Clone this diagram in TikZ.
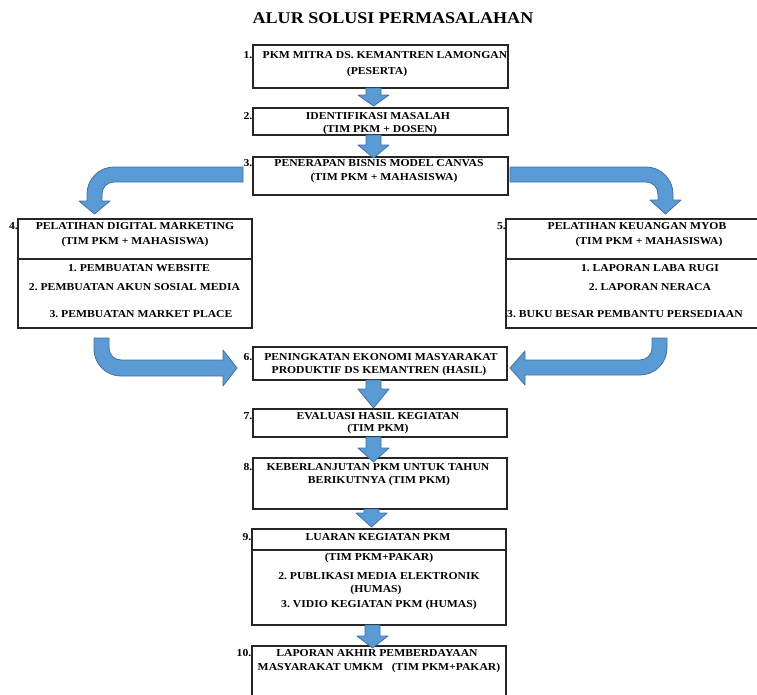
\documentclass[tikz,border=0pt]{standalone}
\usepackage{fontspec}
\setmainfont{Liberation Serif}[FakeStretch=1.1]
\frenchspacing
\definecolor{arrowblue}{HTML}{5B9BD5}
\definecolor{arrowedge}{HTML}{41719C}
\newcommand\mkdownarrow[4]{%
  \draw[blk] (#1-7.5,#2) -- (#1+7.5,#2) -- (#1+7.5,#3) -- (#1+15.5,#3) -- (#1,#4) -- (#1-15.5,#3) -- (#1-7.5,#3) -- cycle;}
\begin{document}
\begin{tikzpicture}[x=1pt,y=-1pt,
  box/.style={draw=black!85, line width=1.2pt, fill=white, inner sep=0pt, outer sep=0pt, anchor=north west},
  txt/.style={font=\fontsize{10.6}{12}\selectfont\bfseries, inner sep=0pt, anchor=base},
  num/.style={font=\fontsize{10.6}{12}\selectfont\bfseries, inner sep=0pt, anchor=base east},
  blk/.style={fill=arrowblue, draw=arrowedge, line width=0.8pt, line join=round},
  divider/.style={draw=black!85, line width=1.2pt}]
\useasboundingbox (0,0) rectangle (757,694);
\clip (0,0) rectangle (757,694);
\fill[white] (0,0) rectangle (757,694);

% title
\node[font=\fontsize{16.4}{18}\selectfont\bfseries, inner sep=0pt, anchor=base] (title) at (393,23) {ALUR SOLUSI PERMASALAHAN};

% boxes
\node[box, minimum width=255pt, minimum height=43pt] (b1) at (253,45) {};
\node[box, minimum width=255pt, minimum height=27pt] (b2) at (253,108) {};
\node[box, minimum width=255pt, minimum height=38pt] (b3) at (253,157) {};
\node[box, minimum width=234pt, minimum height=109pt] (b4) at (18,219) {};
\node[box, minimum width=274pt, minimum height=109pt] (b5) at (506,219) {};
\node[box, minimum width=254pt, minimum height=33pt] (b6) at (253,347) {};
\node[box, minimum width=254pt, minimum height=28pt] (b7) at (253,409) {};
\node[box, minimum width=254pt, minimum height=51pt] (b8) at (253,458) {};
\node[box, minimum width=254pt, minimum height=96pt] (b9) at (252,529) {};
\node[box, minimum width=254pt, minimum height=64pt] (b10) at (252,646) {};

\coordinate (d4l) at (18,259);   \coordinate (d4r) at (252,259);
\coordinate (d5l) at (506,259);  \coordinate (d5r) at (780,259);
\coordinate (d9l) at (252,550);  \coordinate (d9r) at (506,550);
\draw[divider] (d4l) -- (d4r);
\draw[divider] (d5l) -- (d5r);
\draw[divider] (d9l) -- (d9r);

% straight block arrows
\mkdownarrow{373.5}{88}{95}{106}
\mkdownarrow{373.5}{135}{145}{158}
\mkdownarrow{373.5}{380}{389}{408}
\mkdownarrow{373.5}{437}{448}{462}
\mkdownarrow{371.5}{509}{513}{527}
\mkdownarrow{372.5}{625}{636}{648}

% curved block arrows
\draw[blk] (243,167) -- (87+27,167) .. controls (87+27*0.448,167) and (87,167+27*0.448) .. (87,167+27)
  -- (87,201) -- (79,201) -- (94.5,214) -- (110,201) -- (102,201) -- (102,182+12)
  .. controls (102,182+12*0.448) and (102+12*0.448,182) .. (102+12,182) -- (243,182) -- cycle;
\draw[blk] (94,338) -- (94,376-27) .. controls (94,376-27*0.448) and (94+27*0.448,376) .. (94+27,376)
  -- (223,376) -- (223,386) -- (237,368) -- (223,350) -- (223,360) -- (109+12,360)
  .. controls (109+12*0.448,360) and (109,360-12*0.448) .. (109,360-12) -- (109,338) -- cycle;
\draw[blk] (510,167) -- (673-27,167) .. controls (673-27*0.448,167) and (673,167+27*0.448) .. (673,167+27)
  -- (673,200) -- (681,200) -- (665.5,214) -- (650,200) -- (658,200) -- (658,182+12)
  .. controls (658,182+12*0.448) and (658-12*0.448,182) .. (658-12,182) -- (510,182) -- cycle;
\draw[blk] (667,338) -- (667,375-27) .. controls (667,375-27*0.448) and (667-27*0.448,375) .. (667-27,375)
  -- (525,375) -- (525,385) -- (510,368) -- (525,351) -- (525,360) -- (652-12,360)
  .. controls (652-12*0.448,360) and (652,360-12*0.448) .. (652,360-12) -- (652,338) -- cycle;

% texts
\node[num] (n1) at (252.5,58.5) {1.};
\node[txt] (t1a) at (385,58.5) {PKM MITRA DS. KEMANTREN LAMONGAN};
\node[txt] (t1b) at (377,74.5) {(PESERTA)};

\node[num] (n2) at (252.5,119.5) {2.};
\node[txt] (t2a) at (378,119.5) {IDENTIFIKASI MASALAH};
\node[txt] (t2b) at (380,132.5) {(TIM PKM + DOSEN)};

\node[num] (n3) at (252.5,166.5) {3.};
\node[txt] (t3a) at (379,166.5) {PENERAPAN BISNIS MODEL CANVAS};
\node[txt] (t3b) at (384,180.5) {(TIM PKM + MAHASISWA)};

\node[num] (n4) at (18,229.5) {4.};
\node[txt] (t4a) at (135,229.5) {PELATIHAN DIGITAL MARKETING};
\node[txt] (t4b) at (135,244.5) {(TIM PKM + MAHASISWA)};
\node[txt] (t4c) at (139,271.5) {1. PEMBUATAN WEBSITE};
\node[txt] (t4d) at (134.5,290.5) {2. PEMBUATAN AKUN SOSIAL MEDIA};
\node[txt] (t4e) at (141,317.5) {3. PEMBUATAN MARKET PLACE};

\node[num] (n5) at (506,229.5) {5.};
\node[txt] (t5a) at (637,229.5) {PELATIHAN KEUANGAN MYOB};
\node[txt] (t5b) at (649,244.5) {(TIM PKM + MAHASISWA)};
\node[txt] (t5c) at (650,271.5) {1. LAPORAN LABA RUGI};
\node[txt] (t5d) at (650,290.5) {2. LAPORAN NERACA};
\node[txt, anchor=base west] (t5e) at (507,317.5) {3. BUKU BESAR PEMBANTU PERSEDIAAN};

\node[num] (n6) at (252.5,360.5) {6.};
\node[txt] (t6a) at (381,360.5) {PENINGKATAN EKONOMI MASYARAKAT};
\node[txt] (t6b) at (379,373) {PRODUKTIF DS KEMANTREN (HASIL)};

\node[num] (n7) at (252.5,419.5) {7.};
\node[txt] (t7a) at (378,419.5) {EVALUASI HASIL KEGIATAN};
\node[txt] (t7b) at (378,431.5) {(TIM PKM)};

\node[num] (n8) at (252.5,470.5) {8.};
\node[txt] (t8a) at (378,470.5) {KEBERLANJUTAN PKM UNTUK TAHUN};
\node[txt] (t8b) at (379,483.5) {BERIKUTNYA (TIM PKM)};

\node[num] (n9) at (251.5,540.5) {9.};
\node[txt] (t9a) at (378,540.5) {LUARAN KEGIATAN PKM};
\node[txt] (t9b) at (379,560.5) {(TIM PKM+PAKAR)};
\node[txt] (t9c) at (379,579.5) {2. PUBLIKASI MEDIA ELEKTRONIK};
\node[txt] (t9d) at (376,592.5) {(HUMAS)};
\node[txt] (t9e) at (379,607.5) {3. VIDIO KEGIATAN PKM (HUMAS)};

\node[num] (n10) at (251.5,656.5) {10.};
\node[txt] (t10a) at (377,656.5) {LAPORAN AKHIR PEMBERDAYAAN};
\node[txt] (t10b) at (379,670.5) {MASYARAKAT UMKM\ \ \ (TIM PKM+PAKAR)};
\end{tikzpicture}
\end{document}
